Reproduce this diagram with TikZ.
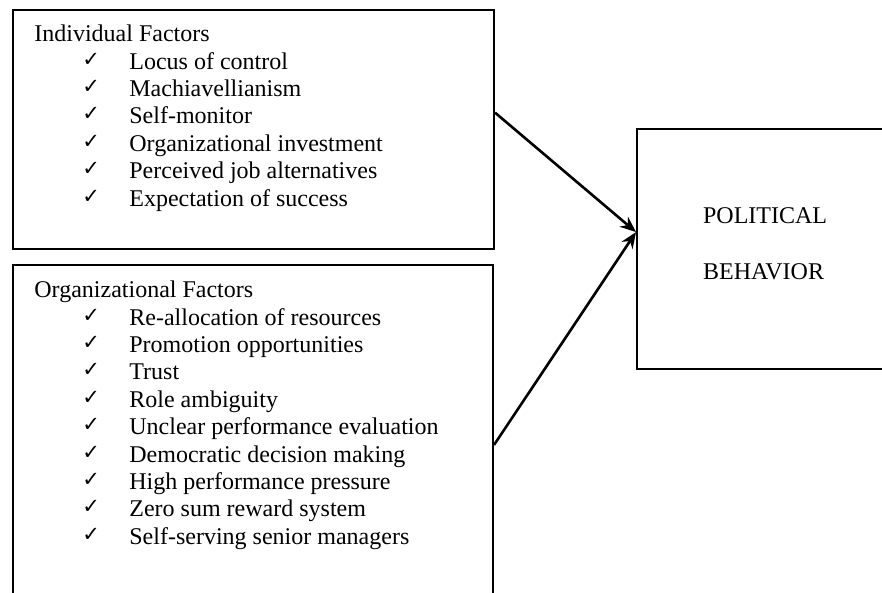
\documentclass[tikz,border=0pt]{standalone}
\usepackage{fontspec}
\setmainfont{Liberation Serif}
\newfontfamily\tickfont{DejaVu Sans}
\usetikzlibrary{positioning, arrows.meta, calc}

\begin{document}
\begin{tikzpicture}[
  x=0.5pt, y=-0.5pt,
  >={Stealth[length=8pt, width=6.5pt]},
  every node/.style={font=\fontsize{12}{14}\selectfont},
  box/.style  = {draw, line width=1pt, inner sep=0pt},
  head/.style = {anchor=base west, inner sep=0pt},
  item/.style = {anchor=base west, inner sep=0pt},
  tick/.style = {anchor=base west, inner sep=0pt, font=\tickfont\fontsize{10.5}{12}\selectfont},
  arr/.style  = {->, line width=1.3pt},
]
  \clip (0,0) rectangle (882,593);
  % factor boxes on the left, outcome box on the right
  \node[box, minimum width=240.5pt, minimum height=119.5pt] (indiv) at (253.5,129.5) {};
  \node[box, minimum width=240pt,   minimum height=180pt]   (org)   at (253,445)     {};
  \node[box, minimum width=127.5pt, minimum height=120pt]   (behav) at (764.5,249)   {};

  % individual factors
  \node[head] (indivhead) at (34,41.7) {Individual Factors};
  \foreach \t [count=\i] in {Locus of control, Machiavellianism, Self-monitor,
      Organizational investment, Perceived job alternatives, Expectation of success} {
    \node[tick] (indivtick\i) at (82,38.7+27.4*\i) {✓};
    \node[item] (indiv\i)     at (129,41.7+27.4*\i) {\t};
  }

  % organizational factors
  \node[head] (orghead) at (34,297.7) {Organizational Factors};
  \foreach \t [count=\i] in {Re-allocation of resources, Promotion opportunities, Trust,
      Role ambiguity, Unclear performance evaluation, Democratic decision making,
      High performance pressure, Zero sum reward system, Self-serving senior managers} {
    \node[tick] (orgtick\i) at (82,294.7+27.4*\i) {✓};
    \node[item] (org\i)     at (129,297.7+27.4*\i) {\t};
  }

  % outcome
  \node[head] (pol) at (702.7,223) {POLITICAL};
  \node[head] (beh) at (702.7,279) {BEHAVIOR};

  \coordinate (indivout) at ($(indiv.north east)!0.43!(indiv.south east)$);
  \coordinate (behavin)  at ($(behav.north west)!0.43!(behav.south west)$);
  \foreach \a in {indivout, org.east}
    \draw[arr] (\a) -- (behavin);
\end{tikzpicture}
\end{document}
